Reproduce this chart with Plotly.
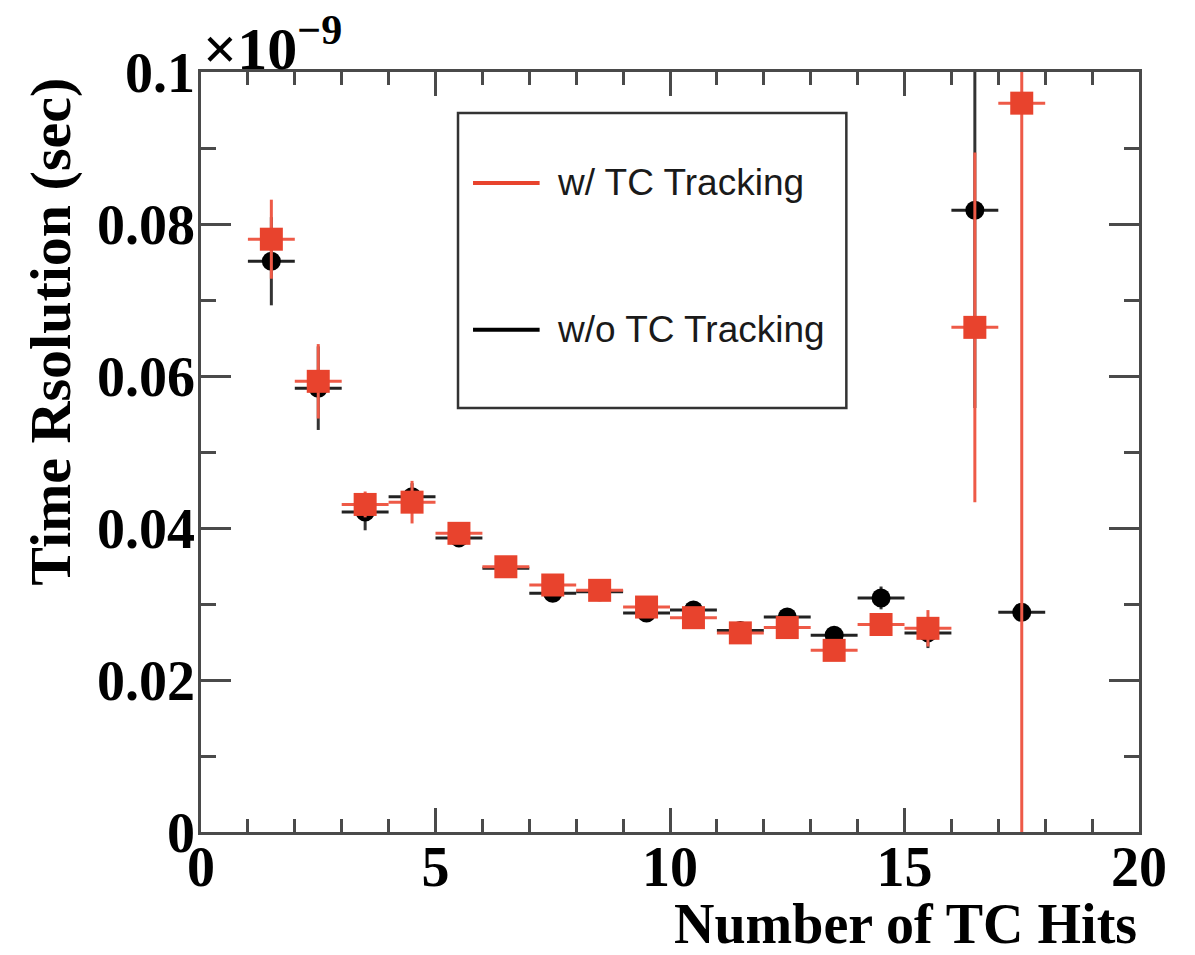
import plotly.graph_objects as go

# Data (values in units of 1e-9 s)
x_centers = [1.5, 2.5, 3.5, 4.5, 5.5, 6.5, 7.5, 8.5, 9.5, 10.5, 11.5, 12.5, 13.5, 14.5, 15.5, 16.5, 17.5]
x_halfwidth = [0.5] * len(x_centers)

with_tc = [0.0780, 0.0593, 0.0431, 0.0434, 0.0393, 0.0349, 0.0325, 0.0318, 0.0296, 0.0282,
           0.0262, 0.0269, 0.0239, 0.0273, 0.0268, 0.0664, 0.0959]
with_tc_err = [0.0052, 0.0049, 0.0017, 0.0028, 0.0010, 0.0008, 0.0008, 0.0007, 0.0008, 0.0008,
               0.0008, 0.0009, 0.0008, 0.0011, 0.0024, 0.0230, 0.1200]

without_tc = [0.0751, 0.0584, 0.0421, 0.0441, 0.0387, 0.0347, 0.0314, 0.0316, 0.0288, 0.0292,
              0.0265, 0.0283, 0.0259, 0.0308, 0.0262, 0.0818, 0.0289]
without_tc_err = [0.0058, 0.0055, 0.0024, 0.0018, 0.0012, 0.0008, 0.0008, 0.0007, 0.0008, 0.0008,
                  0.0008, 0.0009, 0.0008, 0.0015, 0.0020, 0.0260, 0.0006]

y_ticks = [0, 0.02, 0.04, 0.06, 0.08, 0.1]
y_ticklabels = ["0", "0.02", "0.04", "0.06", "0.08", "0.1"]
x_ticks = [0, 5, 10, 15, 20]
x_ticklabels = ["0", "5", "10", "15", "20"]

legend_labels = ["w/ TC Tracking", "w/o TC Tracking"]
x_title = "Number of TC Hits"
y_title = "Time Rsolution (sec)"

RED = "#e8432d"
RED_BAR = "#ee5a47"
BLACK = "#000000"
FRAME = "#4a4a4a"
SERIF = "Liberation Serif, Times New Roman, serif"
SANS = "Liberation Sans, Arial, Helvetica, sans-serif"

fig = go.Figure()

fig.add_trace(go.Scatter(
    x=x_centers, y=without_tc, mode="markers", name=legend_labels[1],
    marker=dict(symbol="circle", size=19, color=BLACK),
    error_x=dict(type="data", array=x_halfwidth, width=0, thickness=3, color="#222222"),
    error_y=dict(type="data", array=without_tc_err, width=0, thickness=3, color="#333333"),
    showlegend=False, cliponaxis=True,
))
fig.add_trace(go.Scatter(
    x=x_centers, y=with_tc, mode="markers", name=legend_labels[0],
    marker=dict(symbol="square", size=23, color=RED),
    error_x=dict(type="data", array=x_halfwidth, width=0, thickness=3, color=RED_BAR),
    error_y=dict(type="data", array=with_tc_err, width=0, thickness=3, color=RED_BAR),
    showlegend=False, cliponaxis=True,
))

axis_common = dict(
    showline=True, linecolor=FRAME, linewidth=2.5, mirror="allticks",
    ticks="inside", tickcolor=FRAME, tickwidth=2.5,
    showgrid=False, zeroline=False,
    tickfont=dict(family=SERIF, size=56, color="black", weight="bold"),
)

fig.update_xaxes(
    range=[0, 20], tickvals=x_ticks, ticktext=x_ticklabels, ticklen=24,
    ticklabelstandoff=-16,
    minor=dict(dtick=1, ticks="inside", ticklen=13, tickcolor=FRAME, tickwidth=2.5, showgrid=False),
    **axis_common,
)
fig.update_yaxes(
    range=[0, 0.1], tickvals=y_ticks, ticktext=y_ticklabels, ticklen=30,
    ticklabelstandoff=-8,
    minor=dict(dtick=0.01, ticks="inside", ticklen=15, tickcolor=FRAME, tickwidth=2.5, showgrid=False),
    **axis_common,
)

# Axis titles (ROOT style: aligned to the end of the axis)
fig.add_annotation(xref="paper", yref="paper", x=1.0, y=-0.121, xanchor="right", yanchor="middle",
                   text="<b>" + x_title + "</b>", showarrow=False,
                   font=dict(family=SERIF, size=56, color="black"))
fig.add_annotation(xref="paper", yref="paper", x=-0.160, y=0.995, xanchor="center", yanchor="top",
                   text="<b>" + y_title + "</b>", showarrow=False, textangle=-90,
                   font=dict(family=SERIF, size=58, color="black"))

# Legend drawn by hand (ROOT style)
fig.add_shape(type="rect", xref="paper", yref="paper", x0=0.274, x1=0.688, y0=0.558, y1=0.946,
              line=dict(color="#333333", width=2.5), fillcolor="white", layer="below")
fig.add_shape(type="line", xref="paper", yref="paper", x0=0.290, x1=0.361, y0=0.854, y1=0.854,
              line=dict(color=RED, width=4))
fig.add_shape(type="line", xref="paper", yref="paper", x0=0.290, x1=0.361, y0=0.661, y1=0.661,
              line=dict(color=BLACK, width=4))
fig.add_annotation(xref="paper", yref="paper", x=0.377, y=0.854, xanchor="left", yanchor="middle",
                   text=legend_labels[0], showarrow=False, font=dict(family=SANS, size=37, color="#1a1a1a"))
fig.add_annotation(xref="paper", yref="paper", x=0.377, y=0.661, xanchor="left", yanchor="middle",
                   text=legend_labels[1], showarrow=False, font=dict(family=SANS, size=37, color="#1a1a1a"))

# Exponent label
fig.add_annotation(xref="paper", yref="paper", x=0.0, y=1.0, xanchor="left", yanchor="bottom",
                   text="<b>×10<sup>−9</sup></b>", showarrow=False, yshift=-12,
                   font=dict(family=SERIF, size=60, color="black"))

fig.update_layout(
    width=1195, height=955,
    margin=dict(l=201, r=56, t=72, b=123),
    plot_bgcolor="white", paper_bgcolor="white",
)

fig.write_html("out.html")
